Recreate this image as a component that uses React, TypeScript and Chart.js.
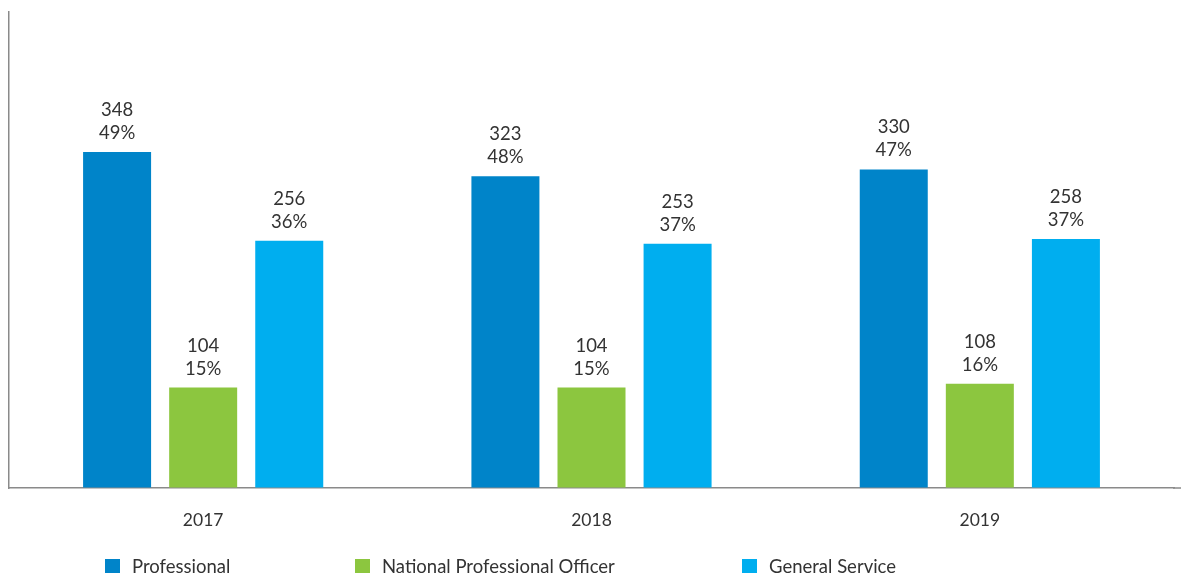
import React, { useEffect, useRef } from "react";
import { Chart, registerables } from "chart.js";

Chart.register(...registerables);

const categories = ["2017", "2018", "2019"];
const seriesNames = ["Professional", "National Professional Officer", "General Service"];
const professional = [348, 323, 330];
const npo = [104, 104, 108];
const generalService = [256, 253, 258];
const professionalPct = ["49%", "48%", "47%"];
const npoPct = ["15%", "15%", "16%"];
const generalServicePct = ["36%", "37%", "37%"];
const colors = ["#0084C9", "#8CC63F", "#00AEEF"];

const FONT = "Lato, 'Open Sans', sans-serif";

export default function App() {
  const ref = useRef<HTMLCanvasElement>(null);
  useEffect(() => {
    if (!ref.current) return;
    const pcts = [professionalPct, npoPct, generalServicePct];
    const labelPlugin = {
      id: "barLabels",
      afterDatasetsDraw(chart: any) {
        const ctx = chart.ctx;
        ctx.save();
        ctx.fillStyle = "#333333";
        ctx.font = `18.5px ${FONT}`;
        ctx.textAlign = "center";
        ctx.textBaseline = "alphabetic";
        chart.data.datasets.forEach((ds: any, di: number) => {
          const meta = chart.getDatasetMeta(di);
          meta.data.forEach((bar: any, i: number) => {
            const x = bar.x;
            const y = bar.y;
            ctx.fillText(String(ds.data[i]), x, y - 36);
            ctx.fillText(pcts[di][i], x, y - 13);
          });
        });
        // extend x axis line to canvas right edge
        const area = chart.chartArea;
        ctx.strokeStyle = "#8a8a8a";
        ctx.lineWidth = 1.5;
        ctx.beginPath();
        ctx.moveTo(area.right - 1, area.bottom);
        ctx.lineTo(chart.width, area.bottom);
        ctx.stroke();
        ctx.restore();
      },
    };
    const chart = new Chart(ref.current, {
      type: "bar",
      data: {
        labels: categories,
        datasets: [professional, npo, generalService].map((d, i) => ({
          label: seriesNames[i],
          data: d,
          backgroundColor: colors[i],
          categoryPercentage: 0.665,
          barPercentage: 0.79,
        })),
      },
      options: {
        animation: false,
        responsive: false,
        maintainAspectRatio: false,
        layout: { padding: { left: 9, top: 12, right: 7, bottom: 20 } },
        plugins: { legend: { display: false }, tooltip: { enabled: false } },
        scales: {
          x: {
            grid: { display: true, color: "transparent", drawTicks: false },
            border: { display: true, color: "#8a8a8a", width: 1.5 },
            ticks: { color: "#333333", font: { family: FONT, size: 17.5 }, padding: 22 },
          },
          y: {
            min: 0,
            max: 493,
            grid: { display: true, color: "transparent", drawTicks: false },
            border: { display: true, color: "#8a8a8a", width: 1.5 },
            ticks: { display: false },
          },
        },
      },
      plugins: [labelPlugin],
    });
    return () => chart.destroy();
  }, []);

  const legendLeft = [105, 355, 742];
  return (
    <div style={{ position: "fixed", left: 0, top: 0, width: 1181, height: 573, background: "#fff" }}>
      <canvas ref={ref} width={1181} height={573} style={{ display: "block" }} />
      {seriesNames.map((n, i) => (
        <div
          key={n}
          style={{
            position: "absolute",
            left: legendLeft[i],
            top: 555,
            display: "flex",
            alignItems: "center",
            fontFamily: FONT,
            fontSize: 18.5,
            color: "#333333",
            whiteSpace: "nowrap",
          }}
        >
          <span style={{ display: "inline-block", width: 15, height: 15, background: colors[i], marginRight: 12 }} />
          <span>{n}</span>
        </div>
      ))}
    </div>
  );
}
